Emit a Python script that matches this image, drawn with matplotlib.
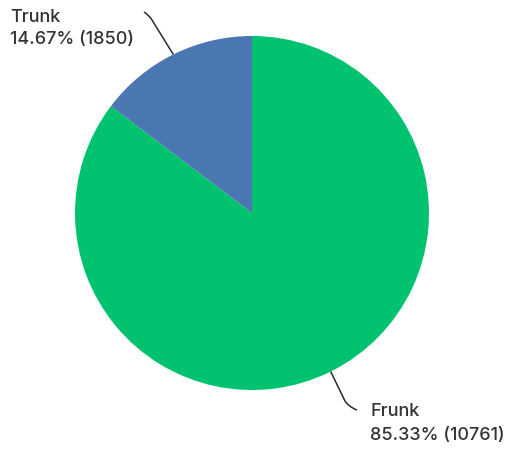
import numpy as np
import matplotlib
matplotlib.use("Agg")
import matplotlib.pyplot as plt
from matplotlib.path import Path
from matplotlib.patches import PathPatch

labels = ["Frunk", "Trunk"]
values = [10761, 1850]
colors = ["#00c26f", "#4a76b2"]

plt.rcParams["font.family"] = ["Inter", "DejaVu Sans"]

W, H = 507, 449
fig = plt.figure(figsize=(W / 100, H / 100), dpi=100)
R = 177
cx, cy = 252, 213
ax = fig.add_axes([(cx - R) / W, (H - cy - R) / H, 2 * R / W, 2 * R / H])
wedges, _ = ax.pie(values, colors=colors, startangle=90, counterclock=False,
                   radius=1, wedgeprops=dict(linewidth=0))
ax.set_xlim(-1, 1); ax.set_ylim(-1, 1)
ax.axis("off")

total = sum(values)


def px(x, y):
    # image pixel -> data coords
    return (x - cx) / R, (cy - y) / R


# label layout: (line end before bend, bend, hook end, text x, text y1, y2) in image px
layout = {
    "Trunk": ((152, 20), (149, 15), (144, 12), 10, 18, 40),
    "Frunk": ((345, 401), (349, 407), (357, 410), 370, 412, 436),
}

for w, lab, v in zip(wedges, labels, values):
    mid = np.deg2rad((w.theta1 + w.theta2) / 2)
    start = (np.cos(mid), np.sin(mid))
    p1, bend, hook, tx, ty1, ty2 = layout[lab]
    path = Path([start, px(*p1), px(*bend), px(*hook)],
                [Path.MOVETO, Path.LINETO, Path.CURVE3, Path.CURVE3])
    ax.add_patch(PathPatch(path, fill=False, ec="#2b2b2b", lw=1.1, clip_on=False))
    x1, y1 = px(tx, ty1)
    _, y2 = px(tx, ty2)
    ax.text(x1, y1, lab, ha="left", va="center", fontsize=13, fontweight="medium",
            color="#333333", clip_on=False)
    ax.text(x1, y2, f"{v / total * 100:.2f}% ({v})", ha="left", va="center",
            fontsize=13, fontweight="medium", color="#333333", clip_on=False)

fig.savefig("out.png", dpi=100)
